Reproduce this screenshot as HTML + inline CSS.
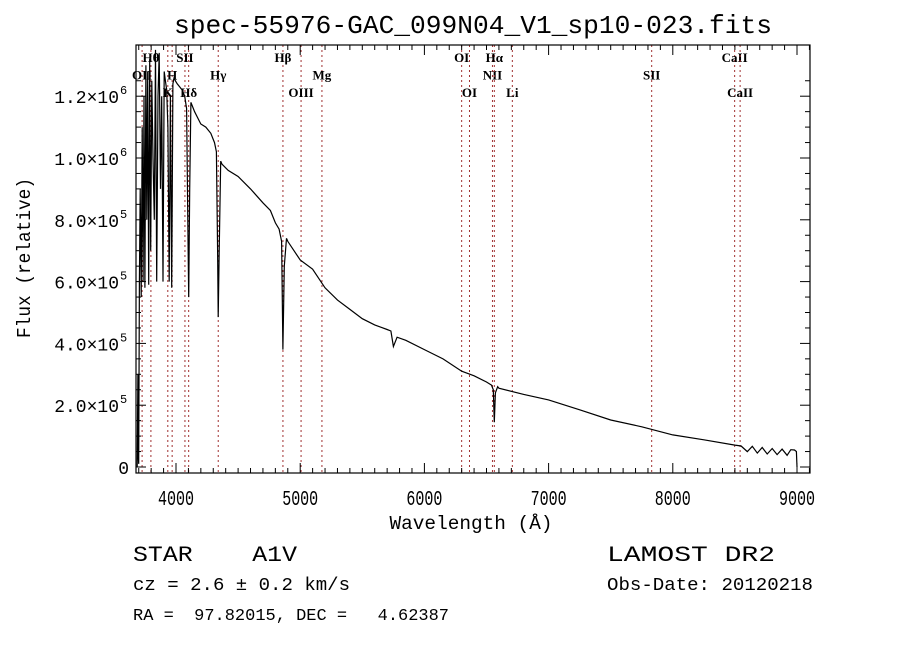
<!DOCTYPE html>
<html><head><meta charset="utf-8"><style>
body{margin:0;background:#fff;}
svg{display:block;}
.t{font-family:"Liberation Mono",monospace;fill:#000;white-space:pre;}
.s{font-family:"Liberation Serif",serif;font-size:13px;font-weight:bold;fill:#000;}
</style></head><body>
<svg id="c" width="900" height="649" xmlns="http://www.w3.org/2000/svg"></svg>
<script>
const waves=[3688,3693,3697,3700,3705,3712,3720,3728,3735,3742,3750,3758,3765,3772,3780,3788,3796,3805,3815,3825,3835,3845,3855,3865,3875,3885,3895,3905,3915,3925,3935,3945,3955,3965,3975,3985,3995,4010,4030,4050,4070,4085,4095,4102,4110,4120,4150,4200,4240,4280,4310,4325,4335,4340,4348,4360,4370,4420,4500,4600,4700,4760,4800,4830,4850,4861,4872,4890,4900,4950,5000,5100,5200,5300,5400,5500,5600,5700,5730,5750,5780,5850,6000,6150,6300,6400,6500,6540,6555,6563,6572,6590,6600,6800,7000,7250,7500,7750,8000,8250,8500,8550,8600,8640,8680,8720,8760,8800,8840,8880,8920,8950,8980,8995,9000];
const flux=[0,3,0.3,0.1,6,9,5.5,11,6,12,5.8,13,8,12.8,5.9,13.2,7,12.5,10,8,13.5,6,12,13.4,9,12,6,12.8,12.5,12.2,11,6,12,5.8,12.4,12.6,12.5,12.4,12.3,12.2,12,11.6,8,5.5,9,11.8,11.5,11.1,11,10.8,10.5,10.2,7,4.85,7,9.9,9.8,9.6,9.4,9.0,8.55,8.3,7.9,7.7,7.3,3.8,6.5,7.4,7.3,7.0,6.7,6.4,5.8,5.4,5.1,4.8,4.6,4.45,4.4,3.9,4.2,4.1,3.8,3.5,3.1,2.95,2.75,2.65,2.5,1.45,2.4,2.6,2.55,2.35,2.17,1.85,1.52,1.3,1.04,0.88,0.71,0.68,0.5,0.67,0.45,0.63,0.42,0.6,0.4,0.58,0.38,0.56,0.55,0.5,0];
const lineNames=["OII","Hθ","K","H","SII","Hδ","Hγ","Hβ","OIII","Mg","OI","OI","NII","Hα","Li","SII","CaII","CaII"];
const lineWaves=[3727,3798,3934,3969,4072,4102,4340,4861,5007,5175,6300,6363,6548,6563,6708,7830,8498,8542];
const lineRows=[1,0,2,1,0,2,1,0,2,1,0,2,1,0,2,1,0,2];
const xTicks=[4000,5000,6000,7000,8000,9000];
const yTicks=[0,2,4,6,8,10,12];
const yMant=["","2.0","4.0","6.0","8.0","1.0","1.2"];
const yExp=["","5","5","5","5","6","6"];

const svg=document.getElementById('c');
const NS="http://www.w3.org/2000/svg";
const L=136,R=810,T=45,B=473;
const X=w=>176+(w-4000)*0.1242;
const Y=f=>467-f*30.9;
function mk(tag,attrs,parent){const e=document.createElementNS(NS,tag);for(const k in attrs)e.setAttribute(k,attrs[k]);(parent||svg).appendChild(e);return e;}

lineWaves.forEach((w,i)=>{
  const g=mk('g',{});
  
  
  mk('line',{x1:X(w),x2:X(w),y1:T,y2:B,stroke:'#a03030','stroke-width':1,'stroke-dasharray':'2,3'},g);
  const t=mk('text',{x:X(w),y:62+lineRows[i]*17.5,'text-anchor':'middle',class:'s'},g);
  t.textContent=lineNames[i];
});

let d='';
waves.forEach((w,i)=>{d+=(i?'L':'M')+X(w).toFixed(1)+','+Y(flux[i]).toFixed(1);});
const p=mk('path',{d:d,fill:'none',stroke:'#000','stroke-width':1.2});



const fr=mk('rect',{x:L,y:T,width:R-L,height:B-T,fill:'none',stroke:'#000','stroke-width':1.2});



for(let w=3700;w<=9100;w+=100){
  const major=w%1000===0;const len=major?10:5;
  mk('line',{x1:X(w),x2:X(w),y1:B,y2:B-len,stroke:'#000'});
  mk('line',{x1:X(w),x2:X(w),y1:T,y2:T+len,stroke:'#000'});
}
xTicks.forEach(w=>{
  const t=mk('text',{x:X(w),y:505,'text-anchor':'middle',class:'t','font-size':'21',textLength:36,lengthAdjust:'spacingAndGlyphs'});
  
  
  t.textContent=w;
});
for(let v=0;v<=12.5;v+=0.5){
  const major=Math.abs(v%2)<1e-6;const len=major?10:5;
  mk('line',{x1:L,x2:L+len,y1:Y(v),y2:Y(v),stroke:'#000'});
  mk('line',{x1:R,x2:R-len,y1:Y(v),y2:Y(v),stroke:'#000'});
}
yTicks.forEach((v,i)=>{
  const t=mk('text',{x:v===0?129:119,y:Y(v)+7,'text-anchor':'end',class:'t','font-size':'18'});
  
  
  if(v===0){t.textContent='0';return;}
  t.textContent=yMant[i]+'×10';
  const e=mk('text',{x:120,y:Y(v)-2,class:'t','font-size':'12'});
  
  
  e.textContent=yExp[i];
});

function txt(x,y,s,size,name,extra){const t=mk('text',Object.assign({x:x,y:y,class:'t','font-size':size},extra||{}));t.textContent=s;return t;}
txt(473,33,'spec-55976-GAC_099N04_V1_sp10-023.fits',26,'chart-title',{'text-anchor':'middle',textLength:598,lengthAdjust:'spacingAndGlyphs'});
txt(471,529,'Wavelength (Å)',19,'x-axis-title',{'text-anchor':'middle',textLength:163,lengthAdjust:'spacingAndGlyphs'});
txt(30,258,'Flux (relative)',19,'y-axis-title',{'text-anchor':'middle',transform:'rotate(-90 30 258)',textLength:160,lengthAdjust:'spacingAndGlyphs'});
txt(133,561,'STAR    A1V',22,'object-class',{textLength:164,lengthAdjust:'spacingAndGlyphs'});
txt(133,590,'cz = 2.6 ± 0.2 km/s',18,'redshift-info',{textLength:217,lengthAdjust:'spacingAndGlyphs'});
txt(133,620,'RA =  97.82015, DEC =   4.62387',17,'coordinates',{textLength:316,lengthAdjust:'spacingAndGlyphs'});
txt(607,561,'LAMOST DR2',22,'survey-name',{textLength:168,lengthAdjust:'spacingAndGlyphs'});
txt(607,590,'Obs-Date: 20120218',18,'obs-date',{textLength:206,lengthAdjust:'spacingAndGlyphs'});
</script>
</body></html>
